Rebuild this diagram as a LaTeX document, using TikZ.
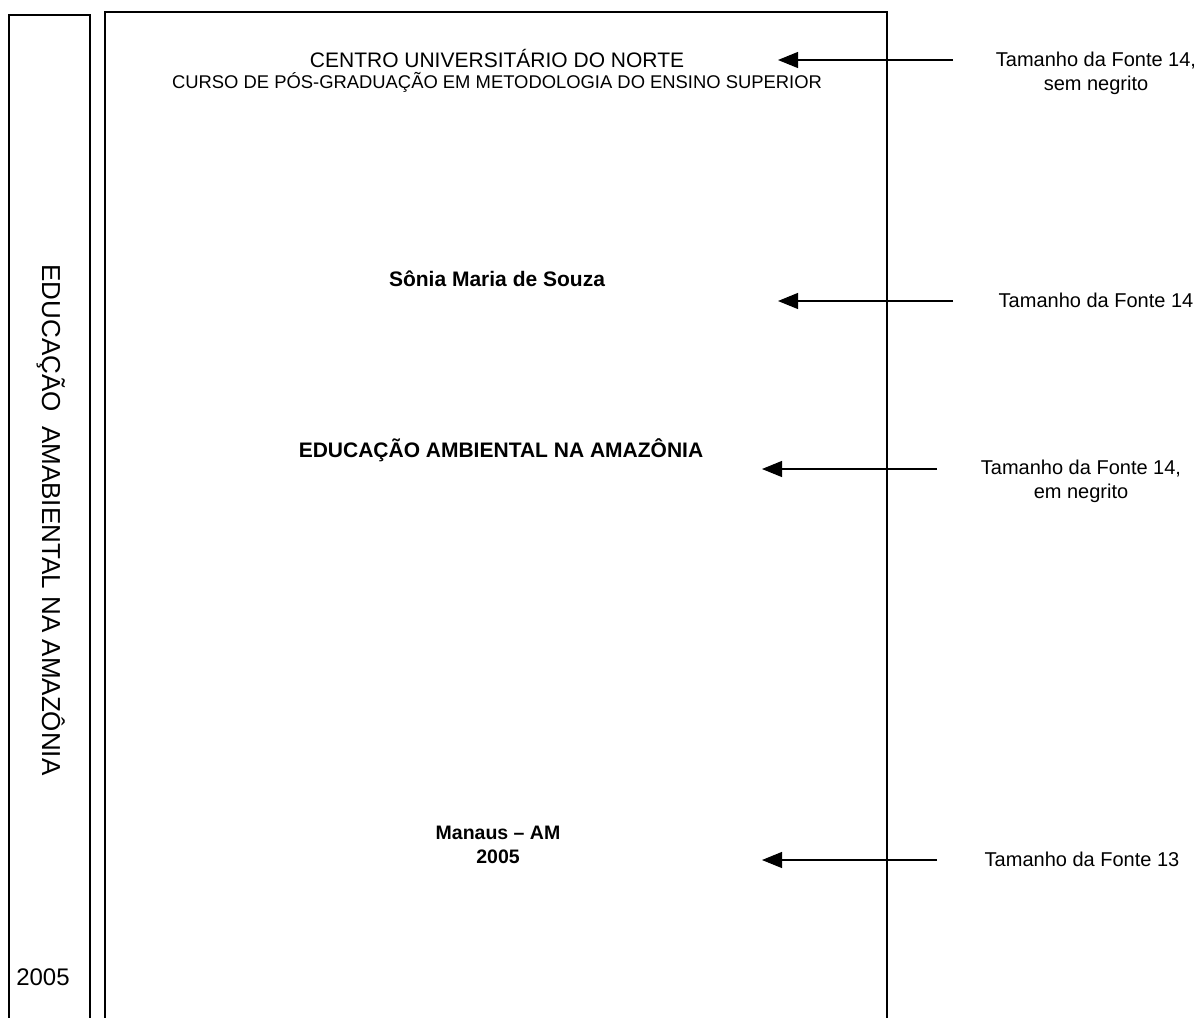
\documentclass[tikz,border=0pt]{standalone}
\usepackage{fontspec}
\setmainfont{Liberation Sans}
\usetikzlibrary{arrows.meta}

\newcommand{\fsz}[1]{\fontsize{#1}{1.2\dimexpr#1pt\relax}\selectfont}

\begin{document}
\begin{tikzpicture}[x=0.5pt, y=-0.5pt, >={Triangle[length=10pt,width=8pt]},
    note/.style={align=center, anchor=base, font=\fsz{10}},
    pointer/.style={->, line width=0.55pt}]
    \useasboundingbox (0,0) rectangle (1203,1017);

		% spine and page
		\draw[line width=0.9pt] (9,1030) -- (9,15) -- (90,15) -- (90,1030);
		\draw[line width=0.7pt] (105,1030) -- (105,12) -- (887,12) -- (887,1030);

		\node[rotate=-90, anchor=base, font=\fsz{13}] (spinetitle) at (42,520) {EDUCAÇÃO\ \ AMABIENTAL NA AMAZÔNIA};
		\node[anchor=base, font=\fsz{12}] (spineyear) at (43,985) {2005};

		% page texts
		\node[anchor=base, font=\fsz{10.5}] (centro) at (497,67) {CENTRO UNIVERSITÁRIO DO NORTE};
		\node[anchor=base, font=\fsz{9.2}] (curso) at (497,88) {CURSO DE PÓS-GRADUAÇÃO EM METODOLOGIA DO ENSINO SUPERIOR};
		\node[anchor=base, font=\bfseries\fsz{10.5}] (autor) at (497,286) {Sônia Maria de Souza};
		\node[anchor=base, font=\bfseries\fsz{10.5}] (titulo) at (501,457) {EDUCAÇÃO AMBIENTAL NA AMAZÔNIA};
		\node[anchor=base, font=\bfseries\fsz{9.75}] (local) at (498,839) {Manaus -- AM};
		\node[anchor=base, font=\bfseries\fsz{9.75}] (ano) at (498,863) {2005};

		% notes at the right
		\node[note] (notaA) at (1096,90) {Tamanho da Fonte 14,\\sem negrito};
		\node[note] (notaB) at (1096,307) {Tamanho da Fonte 14};
		\node[note] (notaC) at (1081,498) {Tamanho da Fonte 14,\\em negrito};
		\node[note] (notaD) at (1082,866) {Tamanho da Fonte 13};

		\coordinate (fromA) at (953,60);  \coordinate (toA) at (778,60);
		\coordinate (fromB) at (953,301); \coordinate (toB) at (778,301);
		\coordinate (fromC) at (937,469); \coordinate (toC) at (762,469);
		\coordinate (fromD) at (937,860); \coordinate (toD) at (762,860);

		\draw[pointer] (fromA) -- (toA);
		\draw[pointer] (fromB) -- (toB);
		\draw[pointer] (fromC) -- (toC);
		\draw[pointer] (fromD) -- (toD);

\end{tikzpicture}
\end{document}
